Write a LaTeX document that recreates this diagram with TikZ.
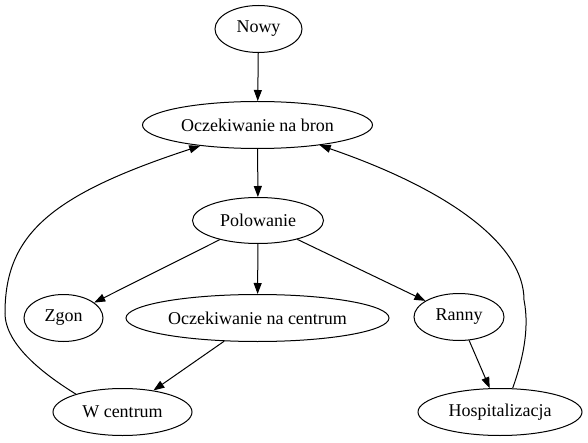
\documentclass[tikz,border=0pt]{standalone}
\usepackage{fontspec}
\setmainfont{Liberation Serif}
\usetikzlibrary{shapes.geometric,arrows.meta}
\begin{document}
\begin{tikzpicture}[x=1pt,y=-1pt,
  st/.style={draw,ellipse,line width=1pt,inner sep=0pt,minimum height=47pt,font=\fontsize{18}{20}\selectfont},
  edge/.style={line width=1pt,-{Triangle[length=11pt,width=8pt]}}]
\useasboundingbox (0,0) rectangle (588,443);
\node[st,minimum width=87pt] (nowy) at (258.5,29) {Nowy};
\node[st,minimum width=230pt] (bron) at (257.5,125) {Oczekiwanie na bron};
\node[st,minimum width=131pt,minimum height=46pt] (pol) at (258,220.5) {Polowanie};
\node[st,minimum width=79pt] (zgon) at (63.5,318) {Zgon};
\node[st,minimum width=263pt] (ocent) at (257.5,318) {Oczekiwanie na centrum};
\node[st,minimum width=90pt] (ranny) at (459,317) {Ranny};
\node[st,minimum width=139pt] (wc) at (122.5,412) {W centrum};
\node[st,minimum width=164pt] (hosp) at (500,412) {Hospitalizacja};
\draw[edge] (nowy) -- (bron);
\draw[edge] (bron) -- (pol);
\draw[edge] (pol) -- (zgon);
\draw[edge] (pol) -- (ocent);
\draw[edge] (pol) -- (ranny);
\draw[edge] (ocent) -- (wc);
\draw[edge] (ranny) -- (hosp);
\draw[edge] (wc.159) .. controls (45,375) and (5,345) .. (5,313)
  .. controls (5,235) and (50,195) .. (bron.-160);
\draw[edge] (hosp.62) .. controls (522,362) and (530,330) .. (524,300)
  .. controls (524,245) and (450,190) .. (bron.-18);
\end{tikzpicture}
\end{document}
